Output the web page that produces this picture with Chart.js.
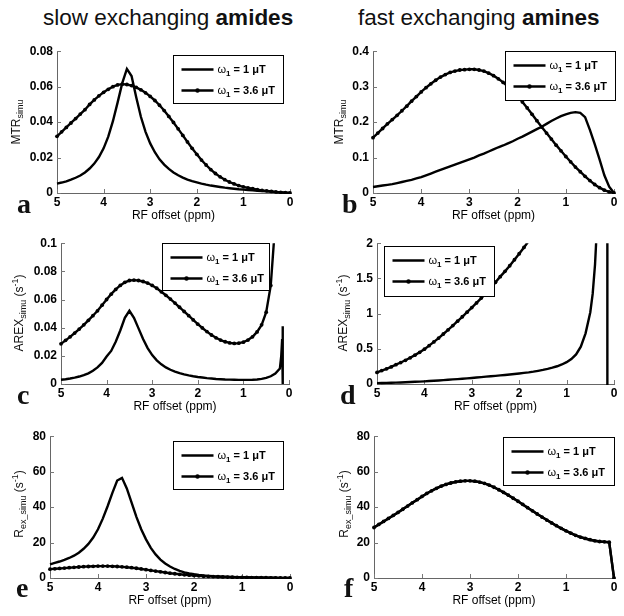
<!DOCTYPE html>
<html>
<head>
<meta charset="utf-8">
<title>Simulated MTR, AREX and Rex</title>
<script src="https://cdn.jsdelivr.net/npm/chart.js@4.4.0/dist/chart.umd.min.js"></script>
<style>
	body { margin: 0; background: #fff; }
	#fig { position: relative; width: 624px; height: 616px; font-family: "Liberation Sans", Arial, sans-serif; color: #111; overflow: hidden; }
	.panel { position: absolute; }
	.panel canvas { display: block; }
	.coltitle { position: absolute; font-size: 22.5px; line-height: 22px; white-space: nowrap; }
	.letter { position: absolute; font-family: "Liberation Serif", "Times New Roman", serif; font-weight: bold; font-size: 28px; line-height: 28px; }
	.ytitle { position: absolute; font-size: 12px; line-height: 14px; white-space: nowrap; transform: translate(-50%, -50%) rotate(-90deg); }
	.ytitle sub, .ytitle sup { font-size: 9px; line-height: 0; }
</style>
</head>
<body>
<div id="fig">
	<div class="coltitle" style="left:43px; top:7px;">slow exchanging <b>amides</b></div>
	<div class="coltitle" style="left:358px; top:7px;">fast exchanging <b>amines</b></div>
</div>
<script>
//RF offset grid (ppm), shared by most curves
var offsets = [5.0, 4.9, 4.8, 4.7, 4.6, 4.5, 4.4, 4.3, 4.2, 4.1,
	4.0, 3.9, 3.8, 3.7, 3.6, 3.5, 3.4, 3.3, 3.2, 3.1,
	3.0, 2.9, 2.8, 2.7, 2.6, 2.5, 2.4, 2.3, 2.2, 2.1,
	2.0, 1.9, 1.8, 1.7, 1.6, 1.5, 1.4, 1.3, 1.2, 1.1,
	1.0, 0.9, 0.8, 0.7, 0.6, 0.5, 0.4, 0.3, 0.2, 0.1, 0.0];

var legendLabels = ['ω1 = 1 μT', 'ω1 = 3.6 μT'];
var xTitle = 'RF offset (ppm)';

// a : MTR slow amides
var mtrSlow1 = [0.0053, 0.0059, 0.0066, 0.0075, 0.0086, 0.0099, 0.0116, 0.0138, 0.0166, 0.0203,
	0.0252, 0.0318, 0.0405, 0.0510, 0.0620, 0.0700, 0.0660, 0.0540, 0.0430, 0.0345,
	0.0280, 0.0230, 0.0190, 0.0160, 0.0136, 0.0116, 0.0100, 0.0087, 0.0076, 0.0067,
	0.0060, 0.0053, 0.0047, 0.0042, 0.0038, 0.0034, 0.0030, 0.0027, 0.0024, 0.0021,
	0.0019, 0.0017, 0.0015, 0.0013, 0.0011, 0.0009, 0.0007, 0.0005, 0.0003, 0.0002, 0.0];
var mtrSlow36 = [0.0320, 0.0345, 0.0370, 0.0395, 0.0420, 0.0445, 0.0470, 0.0500, 0.0525, 0.0548,
	0.0568, 0.0585, 0.0600, 0.0610, 0.0614, 0.0612, 0.0606, 0.0596, 0.0582, 0.0565,
	0.0545, 0.0522, 0.0495, 0.0465, 0.0432, 0.0398, 0.0362, 0.0325, 0.0288, 0.0252,
	0.0218, 0.0186, 0.0158, 0.0132, 0.0110, 0.0091, 0.0075, 0.0062, 0.0051, 0.0042,
	0.0035, 0.0029, 0.0024, 0.0019, 0.0015, 0.0012, 0.0009, 0.0006, 0.0004, 0.0002, 0.0];

// b : MTR fast amines
var mtrFast1 = [0.017, 0.019, 0.021, 0.023, 0.025, 0.028, 0.031, 0.034, 0.037, 0.041,
	0.045, 0.050, 0.055, 0.060, 0.065, 0.070, 0.075, 0.080, 0.085, 0.090,
	0.095, 0.100, 0.106, 0.111, 0.117, 0.123, 0.129, 0.134, 0.140, 0.146,
	0.153, 0.159, 0.166, 0.173, 0.180, 0.187, 0.195, 0.203, 0.210, 0.217,
	0.222, 0.226, 0.228, 0.226, 0.214, 0.178, 0.138, 0.095, 0.050, 0.018, 0.0];
var mtrFast36 = [0.156, 0.169, 0.182, 0.195, 0.207, 0.219, 0.232, 0.245, 0.259, 0.272,
	0.285, 0.297, 0.308, 0.318, 0.327, 0.334, 0.340, 0.344, 0.347, 0.348,
	0.349, 0.349, 0.347, 0.344, 0.338, 0.331, 0.322, 0.312, 0.300, 0.288,
	0.274, 0.257, 0.240, 0.222, 0.204, 0.186, 0.169, 0.152, 0.135, 0.119,
	0.103, 0.088, 0.073, 0.060, 0.047, 0.035, 0.024, 0.015, 0.008, 0.003, 0.0];

// c : AREX slow amides (1 uT has a spike near 0.14 ppm)
var arexSlow1 = [0.0030, 0.0034, 0.0039, 0.0045, 0.0053, 0.0063, 0.0076, 0.0094, 0.0118, 0.0150,
	0.0195, 0.0235, 0.0300, 0.0380, 0.0470, 0.0520, 0.0470, 0.0395, 0.0320, 0.0255,
	0.0205, 0.0168, 0.0140, 0.0118, 0.0101, 0.0088, 0.0077, 0.0068, 0.0061, 0.0055,
	0.0050, 0.0046, 0.0042, 0.0039, 0.0036, 0.0034, 0.0032, 0.0031, 0.0030, 0.0029,
	0.0029, 0.0029, 0.0030, 0.0032, 0.0036, 0.0043, 0.0055, 0.0075, 0.0110];
var arexSlow1TailX = [0.17, 0.15, 0.14, 0.135];
var arexSlow1TailY = [0.020, 0.032, 0.041, 0.0];
var arexSlow36 = [0.0285, 0.0310, 0.0335, 0.0362, 0.0390, 0.0420, 0.0452, 0.0485, 0.0520, 0.0560,
	0.0600, 0.0638, 0.0672, 0.0700, 0.0722, 0.0735, 0.0738, 0.0735, 0.0728, 0.0717,
	0.0700, 0.0680, 0.0655, 0.0630, 0.0603, 0.0575, 0.0545, 0.0515, 0.0485, 0.0455,
	0.0425, 0.0398, 0.0372, 0.0348, 0.0328, 0.0312, 0.0300, 0.0292, 0.0288, 0.0290,
	0.0297, 0.0312, 0.0335, 0.0370, 0.0420, 0.0510, 0.0700, 0.1150];

// d : AREX fast amines (1 uT diverges near 0.37 ppm, vertical line near 0.14 ppm)
var arexFast1 = [0.012, 0.014, 0.016, 0.018, 0.020, 0.022, 0.025, 0.028, 0.031, 0.034,
	0.038, 0.042, 0.046, 0.050, 0.055, 0.060, 0.065, 0.070, 0.075, 0.080,
	0.086, 0.092, 0.098, 0.104, 0.110, 0.116, 0.122, 0.128, 0.135, 0.142,
	0.150, 0.158, 0.165, 0.175, 0.187, 0.200, 0.215, 0.232, 0.252, 0.277,
	0.310, 0.355, 0.420, 0.530, 0.720, 1.020];
var arexFast1TailX = [0.45, 0.40, 0.37, 0.30, 0.14, 0.14];
var arexFast1TailY = [1.28, 1.70, 2.10, null, -1, 3];
var arexFast36 = [0.164, 0.190, 0.216, 0.243, 0.275, 0.305, 0.337, 0.372, 0.410, 0.450,
	0.495, 0.545, 0.598, 0.652, 0.710, 0.770, 0.830, 0.892, 0.955, 1.020,
	1.085, 1.152, 1.220, 1.290, 1.365, 1.445, 1.525, 1.600, 1.680, 1.765,
	1.850, 1.940, 2.030, 2.120];

// e : Rex slow amides
var rexSlow1 = [7.7, 8.5, 9.3, 10.2, 11.3, 12.6, 14.3, 16.5, 19.2, 22.8,
	27.5, 33.5, 40.5, 48.0, 55.0, 56.5, 50.5, 42.5, 34.5, 27.5,
	21.8, 17.0, 13.3, 10.4, 8.2, 6.5, 5.1, 4.0, 3.2, 2.6,
	2.1, 1.7, 1.4, 1.2, 1.0, 0.9, 0.8, 0.7, 0.6, 0.5,
	0.45, 0.4, 0.35, 0.3, 0.25, 0.2, 0.15, 0.1, 0.07, 0.03, 0.0];
var rexSlow36 = [5.0, 5.2, 5.4, 5.6, 5.8, 6.0, 6.2, 6.4, 6.5, 6.6,
	6.7, 6.7, 6.7, 6.6, 6.5, 6.3, 6.1, 5.8, 5.5, 5.1,
	4.7, 4.3, 3.9, 3.5, 3.1, 2.7, 2.4, 2.1, 1.8, 1.6,
	1.4, 1.2, 1.0, 0.9, 0.8, 0.7, 0.6, 0.5, 0.45, 0.4,
	0.35, 0.3, 0.26, 0.22, 0.18, 0.15, 0.12, 0.08, 0.05, 0.02, 0.0];

// f : Rex fast amines (both curves lie on top of each other)
var rexFast1 = [28.5, 30.2, 31.9, 33.6, 35.3, 37.0, 38.8, 40.6, 42.4, 44.2,
	46.0, 47.7, 49.2, 50.6, 51.8, 52.8, 53.6, 54.2, 54.6, 54.8,
	54.8, 54.6, 54.1, 53.4, 52.4, 51.2, 49.8, 48.3, 46.7, 45.0,
	43.3, 41.5, 39.7, 37.9, 36.1, 34.4, 32.7, 31.1, 29.5, 28.0,
	26.6, 25.3, 24.1, 23.1, 22.3, 21.6, 21.0, 20.6, 20.4, 20.2, 0.0];
var rexFast36 = [28.5, 30.2, 31.9, 33.6, 35.3, 37.0, 38.8, 40.6, 42.4, 44.2,
	46.0, 47.7, 49.2, 50.6, 51.8, 52.8, 53.6, 54.2, 54.6, 54.8,
	54.8, 54.6, 54.1, 53.4, 52.4, 51.2, 49.8, 48.3, 46.7, 45.0,
	43.3, 41.5, 39.7, 37.9, 36.1, 34.4, 32.7, 31.1, 29.5, 28.0,
	26.6, 25.3, 24.1, 23.1, 22.3, 21.6, 21.0, 20.6, 20.4, 20.2, 0.0];

var FONT = '"Liberation Sans", Arial, sans-serif';
Chart.defaults.font.family = FONT;
Chart.defaults.color = '#000';

function pairs(xs, ys) {
	var out = [];
	for (var i = 0; i < ys.length; i++) {
		out.push({ x: xs[i], y: ys[i] });
	}
	return out;
}

//Small tick marks pointing into the plot, like matlab
var innerTicks = {
	id: 'innerTicks',
	beforeDatasetsDraw: function(chart) {
		var ctx = chart.ctx, a = chart.chartArea;
		var xs = chart.scales.x, ys = chart.scales.y;
		ctx.save();
		ctx.strokeStyle = '#777';
		ctx.lineWidth = 1;
		xs.ticks.forEach(function(t) {
			var px = Math.round(xs.getPixelForValue(t.value)) + 0.5;
			ctx.beginPath();
			ctx.moveTo(px, a.bottom);
			ctx.lineTo(px, a.bottom - 4);
			ctx.stroke();
		});
		ys.ticks.forEach(function(t) {
			var py = Math.round(ys.getPixelForValue(t.value)) + 0.5;
			ctx.beginPath();
			ctx.moveTo(a.left, py);
			ctx.lineTo(a.left + 4, py);
			ctx.stroke();
		});
		ctx.restore();
	}
};

//Boxed legend drawn inside the plot
var legendBox = {
	id: 'legendBox',
	afterDraw: function(chart, args, o) {
		var ctx = chart.ctx, a = chart.chartArea;
		var bx = Math.round(a.left + o.x) + 0.5, by = Math.round(a.top + o.y) + 0.5;
		ctx.save();
		ctx.fillStyle = '#fff';
		ctx.fillRect(bx, by, o.w, o.h);
		ctx.strokeStyle = '#000';
		ctx.lineWidth = 1;
		ctx.strokeRect(bx, by, o.w, o.h);
		chart.data.datasets.forEach(function(ds, i) {
			var ly = by + 14 + i * 21;
			ctx.strokeStyle = '#000';
			ctx.lineWidth = 2.4;
			ctx.beginPath();
			ctx.moveTo(bx + 8, ly);
			ctx.lineTo(bx + 40, ly);
			ctx.stroke();
			if (ds.pointRadius > 0) {
				ctx.beginPath();
				ctx.arc(bx + 24, ly, 2.2, 0, Math.PI * 2);
				ctx.fillStyle = '#000';
				ctx.fill();
			}
			var tx = bx + 44;
			ctx.fillStyle = '#000';
			ctx.textBaseline = 'middle';
			ctx.font = '11px ' + FONT;
			ctx.fillText(ds.label.charAt(0), tx, ly);
			tx += ctx.measureText(ds.label.charAt(0)).width;
			ctx.font = 'bold 8px ' + FONT;
			ctx.fillText(ds.label.charAt(1), tx, ly + 4);
			tx += ctx.measureText(ds.label.charAt(1)).width;
			ctx.font = 'bold 11px ' + FONT;
			ctx.fillText(ds.label.slice(2), tx, ly);
		});
		ctx.restore();
	}
};

function fmtTick(v) {
	return String(Number(v.toFixed(6)));
}

var Y_W = 40, X_H = 30;

function makePanel(p) {
	var fig = document.getElementById('fig');
	var wrap = document.createElement('div');
	wrap.className = 'panel';
	wrap.style.left = p.box[0] + 'px';
	wrap.style.top = p.box[1] + 'px';
	var canvas = document.createElement('canvas');
	canvas.width = p.box[2];
	canvas.height = p.box[3];
	wrap.appendChild(canvas);
	fig.appendChild(wrap);

	var clip = { left: 3, right: 3, top: 0, bottom: 1 };
	new Chart(canvas, {
		type: 'line',
		data: {
			datasets: [{
				label: legendLabels[0],
				data: p.low,
				borderColor: '#000',
				borderWidth: 2.4,
				pointRadius: 0,
				tension: 0,
				clip: clip
			}, {
				label: legendLabels[1],
				data: p.high,
				borderColor: '#000',
				borderWidth: 2.4,
				pointRadius: 1.9,
				pointBorderWidth: 0,
				pointBackgroundColor: '#000',
				tension: 0,
				clip: clip
			}]
		},
		options: {
			responsive: false,
			animation: false,
			devicePixelRatio: 1,
			events: [],
			layout: {
				padding: {
					left: p.area[0] - p.box[0] - Y_W,
					right: p.box[0] + p.box[2] - p.area[1],
					top: p.area[2] - p.box[1],
					bottom: p.box[1] + p.box[3] - p.area[3] - X_H
				}
			},
			plugins: {
				legend: { display: false },
				tooltip: { enabled: false },
				legendBox: p.legend
			},
			scales: {
				x: {
					type: 'linear',
					reverse: true,
					min: 0,
					max: 5,
					grid: { display: false, drawTicks: false, tickLength: 0 },
					border: { display: true, color: '#666', width: 1 },
					ticks: { stepSize: 1, padding: 2, maxRotation: 0, font: { size: 12, weight: 'bold' }, callback: fmtTick },
					title: { display: true, text: xTitle, padding: { top: 0, bottom: 0 }, font: { size: 12 } },
					afterFit: function(s) { s.height = X_H; }
				},
				y: {
					min: 0,
					max: p.yMax,
					grid: { display: false, drawTicks: false, tickLength: 0 },
					border: { display: true, color: '#666', width: 1 },
					ticks: { stepSize: p.yStep, padding: 4, font: { size: 12, weight: 'bold' }, callback: fmtTick },
					afterFit: function(s) { s.width = Y_W; }
				}
			}
		},
		plugins: [innerTicks, legendBox]
	});
}

function addText(cls, html, left, top) {
	var d = document.createElement('div');
	d.className = cls;
	d.innerHTML = html;
	d.style.left = left + 'px';
	d.style.top = top + 'px';
	document.getElementById('fig').appendChild(d);
}

var panels = [
	{ box: [0, 40, 312, 190], area: [57, 290, 51, 193], yMax: 0.08, yStep: 0.02,
		low: pairs(offsets, mtrSlow1), high: pairs(offsets, mtrSlow36),
		legend: { x: 116, y: 4, w: 110, h: 48 } },
	{ box: [312, 40, 312, 190], area: [373, 614, 51, 193], yMax: 0.4, yStep: 0.1,
		low: pairs(offsets, mtrFast1), high: pairs(offsets, mtrFast36),
		legend: { x: 132, y: 0, w: 110, h: 49 } },
	{ box: [0, 232, 312, 190], area: [61, 289, 242, 384], yMax: 0.1, yStep: 0.02,
		low: pairs(offsets, arexSlow1).concat(pairs(arexSlow1TailX, arexSlow1TailY)),
		high: pairs(offsets, arexSlow36),
		legend: { x: 101, y: 0, w: 107, h: 47 } },
	{ box: [312, 232, 312, 190], area: [377, 614, 242, 384], yMax: 2, yStep: 0.5,
		low: pairs(offsets, arexFast1).concat(pairs(arexFast1TailX, arexFast1TailY)),
		high: pairs(offsets, arexFast36),
		legend: { x: 7, y: 3, w: 110, h: 50 } },
	{ box: [0, 425, 312, 191], area: [50, 290, 435, 578], yMax: 80, yStep: 20,
		low: pairs(offsets, rexSlow1), high: pairs(offsets, rexSlow36),
		legend: { x: 123, y: 5, w: 110, h: 48 } },
	{ box: [312, 425, 312, 191], area: [374, 614, 435, 578], yMax: 80, yStep: 20,
		low: pairs(offsets, rexFast1), high: pairs(offsets, rexFast36),
		legend: { x: 129, y: 1, w: 111, h: 48 } }
];

panels.forEach(makePanel);

//y axis titles (rotated, with sub/superscripts)
addText('ytitle', 'MTR<sub>simu</sub>', 16, 122);
addText('ytitle', 'MTR<sub>simu</sub>', 339, 122);
addText('ytitle', 'AREX<sub>simu</sub> (s<sup>-1</sup>)', 19, 313);
addText('ytitle', 'AREX<sub>simu</sub> (s<sup>-1</sup>)', 343, 313);
addText('ytitle', 'R<sub>ex_simu</sub> (s<sup>-1</sup>)', 19, 504);
addText('ytitle', 'R<sub>ex_simu</sub> (s<sup>-1</sup>)', 344, 504);

//panel letters
addText('letter', 'a', 17, 190);
addText('letter', 'b', 342, 190);
addText('letter', 'c', 17, 381);
addText('letter', 'd', 340, 381);
addText('letter', 'e', 16, 574);
addText('letter', 'f', 344, 574);
</script>
</body>
</html>
